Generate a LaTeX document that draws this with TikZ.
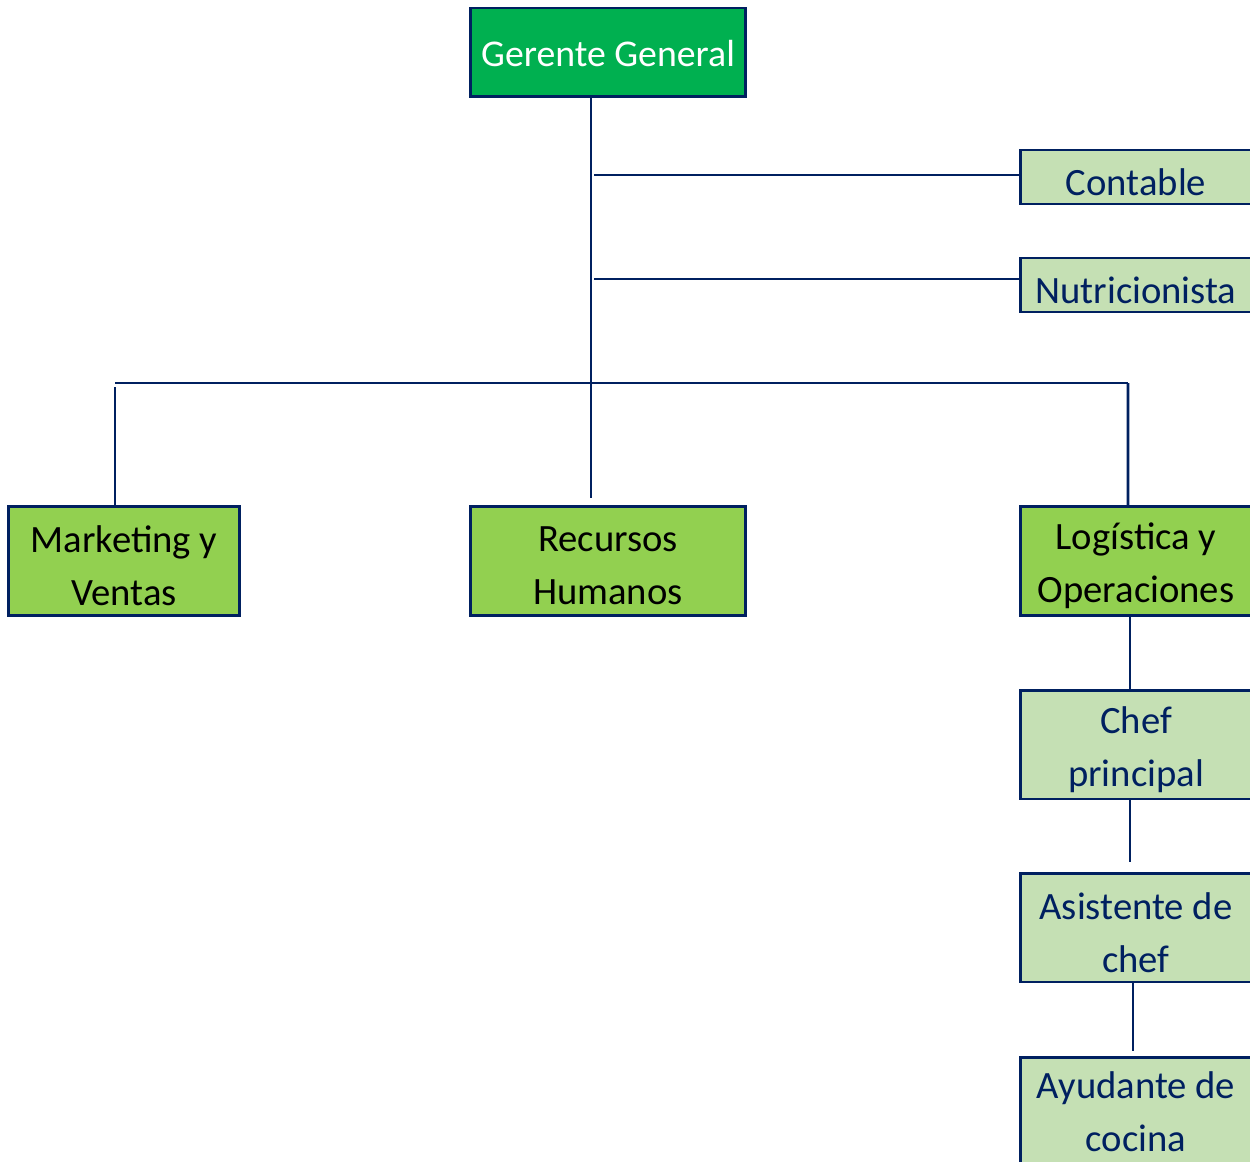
\documentclass[tikz,border=0pt]{standalone}
\usepackage{fontspec}
\setmainfont{Carlito}
\definecolor{navy}{HTML}{002060}
\definecolor{topgreen}{HTML}{00B050}
\definecolor{midgreen}{HTML}{92D050}
\definecolor{palegreen}{HTML}{C5E0B4}
\begin{document}
\begin{tikzpicture}[x=0.02cm, y=-0.02cm,
  txt/.style={align=center, inner sep=0pt, yshift=-0.1cm,
    font=\fontsize{22}{30}\selectfont},
  box/.style={draw=navy, line width=1.7pt, inner sep=0pt,
    minimum width=4.64cm, minimum height=2.18cm},
  boss/.style={box, fill=topgreen, minimum width=5.52cm, minimum height=1.78cm,
    label={[txt, text=white, yshift=0.08cm, font=\fontsize{21.5}{30}\selectfont]center:{#1}}},
  dept/.style={box, fill=midgreen, label={[txt, text=black]center:{#1}}},
  staff/.style={box, fill=palegreen, label={[txt, text=navy]center:{#1}}},
  lowstaff/.style={box, fill=palegreen, label={[txt, text=navy, yshift=0.1cm]center:{#1}}},
  thin/.style={staff=#1, minimum height=1.08cm},
  link/.style={draw=navy, line width=1.6pt}]
\useasboundingbox (0,0) rectangle (1250,1162);
\clip (0,0) rectangle (1250,1162);

% top of the chart
\node[boss={Gerente General}] (gg) at (608,52.5) {};

% advisory positions
\node[thin={Contable}] (cont) at (1136,177) {};
\node[thin={Nutricionista}] (nutr) at (1136,285) {};

% departments
\node[dept={Marketing y\\Ventas}] (mk) at (124,561) {};
\node[dept={Recursos\\Humanos}, minimum width=5.52cm] (rh) at (608,561) {};
\node[dept={Logística y\\Operaciones}] (lo) at (1136,561) {};

% kitchen line
\node[staff={Chef\\principal}] (chef) at (1136,744.5) {};
\node[staff={Asistente de\\chef}] (asis) at (1136,927.5) {};
\node[lowstaff={Ayudante de\\cocina}] (ayud) at (1136,1111.5) {};

% connectors
\coordinate (busL) at (115,383);
\coordinate (busR) at (1128,383);
\draw[link] ([xshift=-0.34cm]gg.south) -- ([xshift=-0.34cm,yshift=0.14cm]rh.north);
\draw[link] ([yshift=0.04cm]cont.west) -- ++(-425,0);
\draw[link] ([yshift=0.12cm]nutr.west) -- ++(-425,0);
\draw[link] (busL) -- (busR);
\draw[link] ([xshift=-0.18cm]mk.north) -- ([xshift=-0.18cm]mk.north |- 0,387);
\draw[link] ([xshift=-0.16cm]lo.north) -- (busR);
\draw[link] ([xshift=-0.12cm]lo.south) -- ([xshift=-0.12cm]chef.north);
\draw[link] ([xshift=-0.12cm]chef.south) -- ([xshift=-0.12cm,yshift=0.2cm]asis.north);
\draw[link] ([xshift=-0.06cm]asis.south) -- ([xshift=-0.06cm,yshift=0.1cm]ayud.north);
\end{tikzpicture}
\end{document}
